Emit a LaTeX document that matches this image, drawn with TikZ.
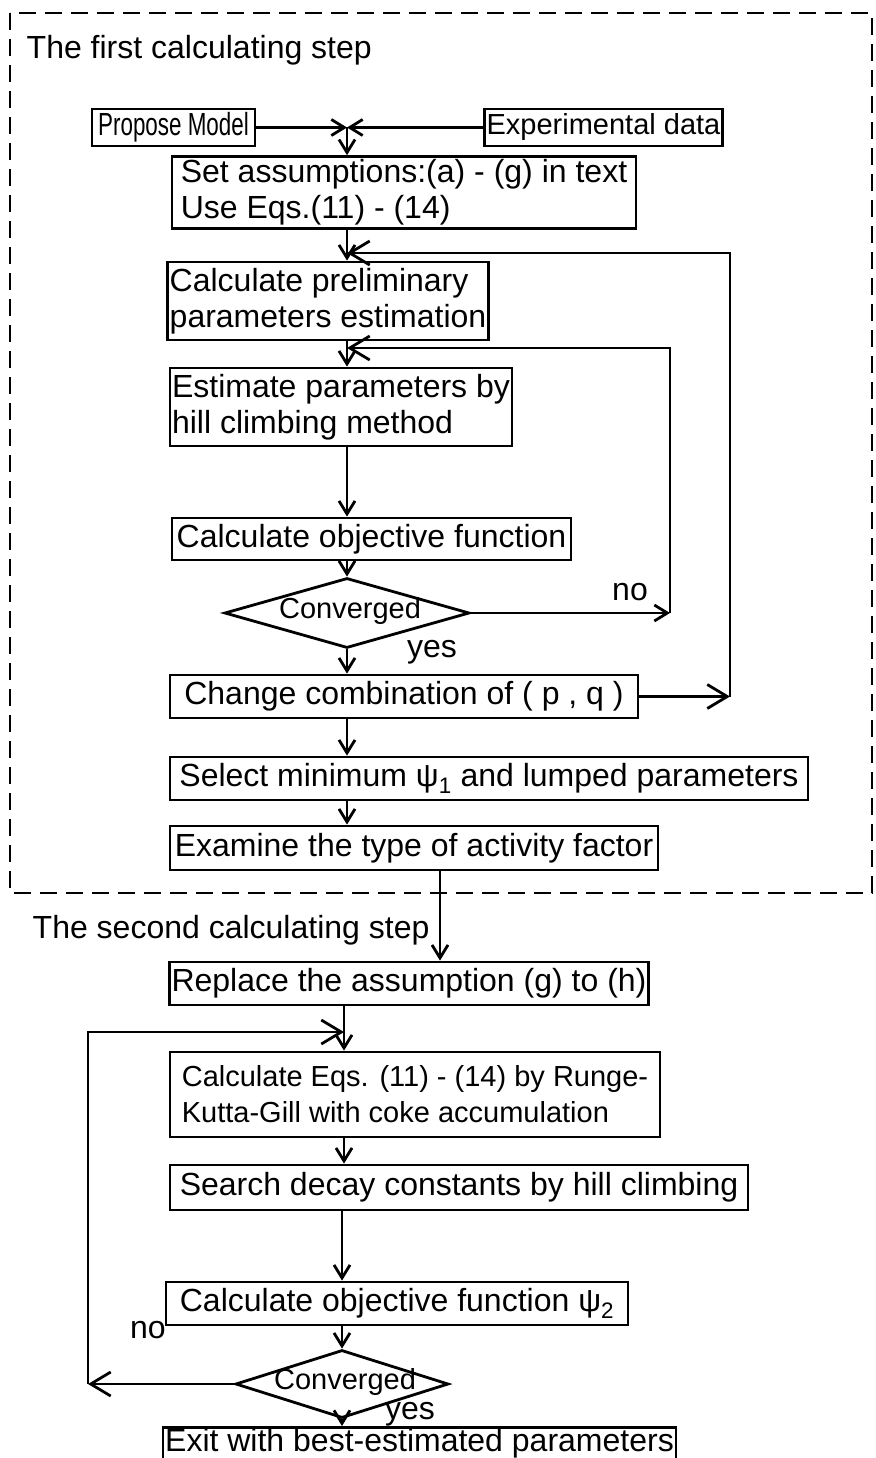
\documentclass[tikz,border=0pt]{standalone}
\usepackage{fontspec}
\setmainfont{Liberation Sans}
\newfontfamily\narrowfont{Liberation Sans}[FakeStretch=0.70]
\usetikzlibrary{arrows.meta,shapes.geometric}

\tikzset{
    txt/.style={font=\fontsize{32}{36}\selectfont},
    small/.style={font=\fontsize{29}{36}\selectfont},
    narrow/.style={font=\fontsize{32}{36}\narrowfont},
    box/.style={txt, draw, line width=2.8pt, inner xsep=2pt, inner ysep=3pt, align=left},
    decision/.style={draw, diamond, line width=2.8pt, inner sep=0pt},
    arr/.style={-{Straight Barb[length=13pt,width=16pt]}},
    looparr/.style={-{Straight Barb[length=20pt,width=24pt]}},
    frame/.style={line width=2.8pt, dash pattern=on 17pt off 9pt}
}

\begin{document}
\begin{tikzpicture}[x=1pt, y=-1pt, line width=2.8pt]
    \useasboundingbox (0,0) rectangle (875,1458);

    % Frame of the first step
    \draw[frame] (10,13) rectangle (872,893);
    \node at (22, 50) (first) [txt, anchor=west] {The first calculating step};
    \node at (28, 930) (second) [txt, anchor=west] {The second calculating step};

    % Nodes: first step
    \node at (173.5, 127.5) (propose) [box, narrow, minimum width=163, minimum height=37] {Propose Model};
    \node at (603.5, 127.5) (expdata) [box, small, minimum width=237, minimum height=37] {Experimental data};
    \coordinate (join) at (347, 127.5);
    \node at (404, 192.5) (assume) [box, minimum width=464, minimum height=71] {Set assumptions:(a) - (g) in text\\Use Eqs.(11) - (14)};
    \node at (328, 301) (prelim) [box, minimum width=312, minimum height=78] {Calculate preliminary\\parameters estimation};
    \node at (341, 407) (estimate) [box, minimum width=338, minimum height=78] {Estimate parameters by\\hill climbing method};
    \node at (371.5, 539) (objfun) [box, minimum width=399, minimum height=42] {Calculate objective function};
    \node at (347, 613) (conv) [decision, minimum width=245, minimum height=70] {};
    \node at (350, 611) (convtext) [small] {Converged};
    \node at (404, 696.5) (change) [box, minimum width=468, minimum height=43] {Change combination of ( p , q )};
    \node at (489, 778.5) (select) [box, minimum width=638, minimum height=43] {Select minimum ψ\textsubscript{1} and lumped parameters};
    \node at (414, 848) (examine) [box, minimum width=488, minimum height=44] {Examine the type of activity factor};

    % Nodes: second step
    \node at (409, 983.5) (replace) [box, minimum width=478, minimum height=43] {Replace the assumption (g) to (h)};
    \node at (415, 1094.5) (rkg) [box, small, minimum width=490, minimum height=85] {Calculate Eqs. (11) - (14) by Runge-\\Kutta-Gill with coke accumulation};
    \node at (459, 1187.5) (search) [box, minimum width=578, minimum height=45] {Search decay constants by hill climbing};
    \node at (397, 1303.5) (objfuntwo) [box, minimum width=462, minimum height=43] {Calculate objective function ψ\textsubscript{2}};
    \node at (342, 1384) (convtwo) [decision, minimum width=213, minimum height=68] {};
    \node at (345, 1382) (convtwotext) [small] {Converged};
    \node at (419.5, 1426) (exit) [box, anchor=north, inner ysep=2pt, text height=22pt, text depth=10pt, minimum width=513] {Exit with best-estimated parameters};

    % Labels
    \node at (630, 592) (noone) [txt] {no};
    \node at (432, 652) (yesone) [txt] {yes};
    \node at (148, 1330) (notwo) [txt] {no};
    \node at (410, 1414) (yestwo) [txt] {yes};

    % Loop corners
    \coordinate (outerbot) at (730, 696.5);
    \coordinate (outertop) at (347, 253);
    \coordinate (innerbot) at (670, 613);
    \coordinate (innertop) at (347, 348);
    \coordinate (backbot) at (88, 1384);
    \coordinate (backtop) at (344, 1032);

    % Arrows: first step
    \draw[arr] (propose) -- (join);
    \draw[arr] (expdata) -- (join);
    \draw[arr] (join) -- (assume.north -| join);
    \draw[arr] (assume.south -| join) -- (prelim.north -| join);
    \draw[arr] (prelim.south -| join) -- (estimate.north -| join);
    \draw[arr] (estimate.south -| join) -- (objfun.north -| join);
    \draw[arr] (objfun.south -| join) -- (conv.north);
    \draw[arr] (conv.south) -- (change.north -| join);
    \draw[arr] (change.south -| join) -- (select.north -| join);
    \draw[arr] (select.south -| join) -- (examine.north -| join);
    \draw[arr] (conv.east) -- (innerbot);
    \draw[looparr] (innerbot) |- (innertop);
    \draw[looparr] (change.east) -- (outerbot);
    \draw[looparr] (outerbot) |- (outertop);

    % Arrows: second step
    \draw[arr] (examine.south -| 440, 0) -- (replace.north -| 440, 0);
    \draw[arr] (replace.south -| backtop) -- (rkg.north -| backtop);
    \draw[arr] (rkg.south -| backtop) -- (search.north -| backtop);
    \draw[arr] (search.south -| convtwo) -- (objfuntwo.north -| convtwo);
    \draw[arr] (objfuntwo.south -| convtwo) -- (convtwo.north);
    \draw[arr] (convtwo.south) -- (exit.north -| convtwo);
    \draw[looparr] (convtwo.west) -- (backbot);
    \draw[looparr] (backbot) |- (backtop);
\end{tikzpicture}
\end{document}
